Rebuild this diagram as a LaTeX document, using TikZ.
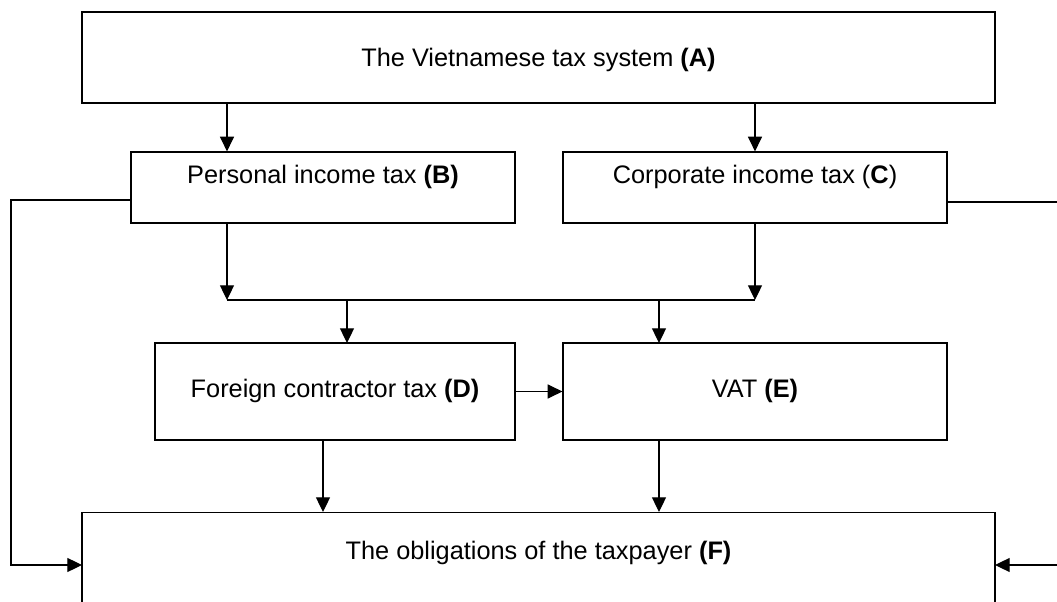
\documentclass[tikz,border=0pt]{standalone}
\usepackage{fontspec}
\setmainfont{Liberation Sans}
\usepackage{tikz}
\usetikzlibrary{arrows.meta, calc}

\tikzset{
  taxbox/.style={draw, line width=0.9pt, inner sep=0pt, text height=13.6pt, text depth=0pt},
  flow/.style={line width=0.9pt, -{Triangle[length=11pt,width=10.5pt]}}
}

\begin{document}
\begin{tikzpicture}[x=0.75pt, y=-0.75pt, font=\fontsize{19}{22}\selectfont]
            \useasboundingbox (0,0) rectangle (1057,602);
            \node[taxbox, minimum width=684.75pt, minimum height=68.25pt] at (538.5,57.5) (sys) {The Vietnamese tax system \textbf{(A)}};
            \node[taxbox, minimum width=288pt, minimum height=53.25pt, text depth=20.25pt] at (323,187.5) (pit) {Personal income tax \textbf{(B)}};
            \node[taxbox, minimum width=288pt, minimum height=53.25pt, text depth=20.25pt] at (755,187.5) (cit) {Corporate income tax (\textbf{C})};
            \node[taxbox, minimum width=270pt, minimum height=72.75pt, text depth=4.5pt] at (335,391.5) (fct) {Foreign contractor tax \textbf{(D)}};
            \node[taxbox, minimum width=288pt, minimum height=72.75pt, text depth=4.5pt] at (755,391.5) (vat) {VAT \textbf{(E)}};
            \node[taxbox, anchor=north, minimum width=684.75pt, text height=35.25pt, text depth=90.75pt] at (538.5,512) (obl) {The obligations of the taxpayer \textbf{(F)}};
            % join line between the income taxes and D, E
            \coordinate (busL) at (227,300);
            \coordinate (busR) at (755,300);
            \coordinate (fctIn) at (347,343);
            \coordinate (vatIn) at (659,343);
            \coordinate (fctOut) at (323,440);
            \coordinate (pitOut) at (131,200);
            \coordinate (citOut) at (947,202);
            \coordinate (oblL) at (82,565);
            \coordinate (oblR) at (995,565);
            \draw[flow] (sys.south -| busL) -- (pit.north -| busL);
            \draw[flow] (sys.south -| busR) -- (cit.north);
            \draw[flow] (pit.south -| busL) -- (busL);
            \draw[flow] (cit.south) -- (busR);
            \draw[line width=0.9pt] (busL) -- (busR);
            \draw[flow] (busL -| fctIn) -- (fctIn);
            \draw[flow] (busL -| vatIn) -- (vatIn);
            \draw[flow] (fct) -- (vat);
            \draw[flow] (fctOut) -- (obl.north -| fctOut);
            \draw[flow] (vat.south -| vatIn) -- (obl.north -| vatIn);
            % side lines to F
            \draw[flow] (pitOut) -- (11,200) |- (oblL);
            \draw[flow] (citOut) -- (1062,202) |- (oblR);
        \end{tikzpicture}
\end{document}
